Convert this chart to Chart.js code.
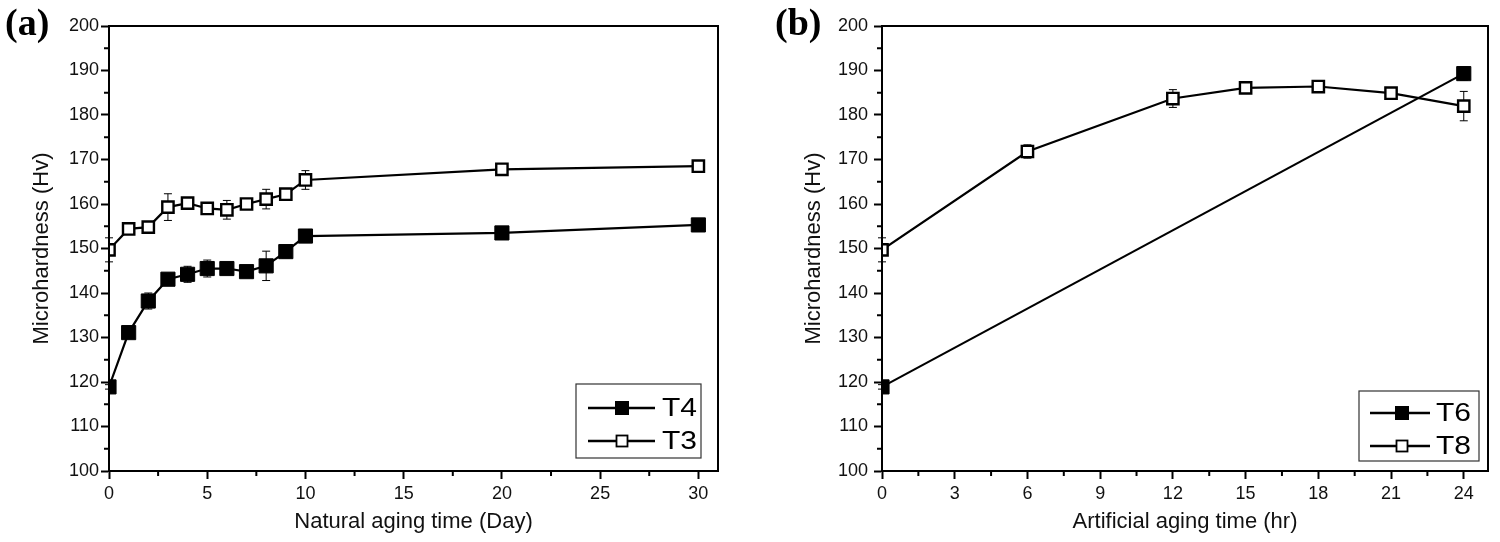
<!DOCTYPE html>
<html>
<head>
<meta charset="utf-8">
<script src="https://cdn.jsdelivr.net/npm/chart.js@4.4.1/dist/chart.umd.min.js"></script>
<style>
  html, body { margin: 0; padding: 0; background: #fff; }
  #wrap { position: relative; width: 1500px; height: 542px; overflow: hidden; }
  canvas { position: absolute; top: 0; }
  #chartA { left: 0; }
  #chartB { left: 750px; }
  .panel { position: absolute; top: 0px; font: bold 38px "Liberation Serif", "Times New Roman", serif; color: #000; }
</style>
</head>
<body>
<div id="wrap">
  <canvas id="chartA" width="750" height="542"></canvas>
  <canvas id="chartB" width="750" height="542"></canvas>
  <div class="panel" style="left:5px">(a)</div>
  <div class="panel" style="left:775px">(b)</div>
</div>
<script>
// panel (a): natural aging
const dayA = [0, 1, 2, 3, 4, 5, 6, 7, 8, 9, 10, 20, 30];
const t4 = [118.9, 131.1, 138.2, 143.1, 144.2, 145.5, 145.5, 144.8, 146.1, 149.3, 152.8, 153.5, 155.3];
const t4Err = [0.5, 0.4, 1.8, 1.2, 1.8, 1.9, 0.5, 0.5, 3.3, 1.4, 0.5, 0.5, 0.5];
const t3 = [149.7, 154.4, 154.8, 159.3, 160.2, 159.0, 158.7, 160.0, 161.1, 162.2, 165.4, 167.8, 168.5];
const t3Err = [2.7, 0.4, 0.6, 3.0, 0.5, 0.6, 2.1, 0.6, 2.2, 0.9, 2.1, 1.2, 1.0];

// panel (b): artificial aging
const hrT6 = [0, 24];
const t6 = [118.9, 189.3];
const t6Err = [0.5, 1.5];
const hrT8 = [0, 6, 12, 15, 18, 21, 24];
const t8 = [149.7, 171.8, 183.7, 186.1, 186.4, 184.9, 182.0];
const t8Err = [2.7, 1.5, 2.0, 0.5, 0.5, 0.5, 3.3];

// axes
const xTicksA = [0, 5, 10, 15, 20, 25, 30];
const xMinorA = [2.5, 7.5, 12.5, 17.5, 22.5, 27.5];
const xTicksB = [0, 3, 6, 9, 12, 15, 18, 21, 24];
const xMinorB = [1.5, 4.5, 7.5, 10.5, 13.5, 16.5, 19.5, 22.5];
const yTicks = [100, 110, 120, 130, 140, 150, 160, 170, 180, 190, 200];
const yMinor = [105, 115, 125, 135, 145, 155, 165, 175, 185, 195];

const FONT = "'Liberation Sans', Arial, sans-serif";

function pts(xs, ys) {
    return xs.map((x, i) => ({ x: x, y: ys[i] }));
}

function filledSet(label, xs, ys, errs) {
    return {
        label: label,
        data: pts(xs, ys),
        errors: errs,
        filled: true,
        borderColor: "#000",
        borderWidth: 2.2,
        backgroundColor: "#000",
        pointStyle: "rect",
        pointRadius: 10,
        pointBorderWidth: 1,
        pointBackgroundColor: "#000",
        pointBorderColor: "#000",
        clip: { left: 0, top: 20, right: 20, bottom: 20 }
    };
}

function openSet(label, xs, ys, errs) {
    return {
        label: label,
        data: pts(xs, ys),
        errors: errs,
        filled: false,
        borderColor: "#000",
        borderWidth: 2.2,
        backgroundColor: "#fff",
        pointStyle: "rect",
        pointRadius: 8,
        pointBorderWidth: 2.4,
        pointBackgroundColor: "#fff",
        pointBorderColor: "#000",
        clip: { left: 0, top: 20, right: 20, bottom: 20 }
    };
}

// error bars, drawn under the markers
const errorBars = {
    id: "errorBars",
    beforeDatasetsDraw(chart) {
        const ctx = chart.ctx;
        const xs = chart.scales.x, ys = chart.scales.y;
        ctx.save();
        ctx.strokeStyle = "#000";
        ctx.lineWidth = 1;
        chart.data.datasets.forEach(ds => {
            ds.data.forEach((p, i) => {
                const e = ds.errors[i];
                const px = xs.getPixelForValue(p.x);
                const top = ys.getPixelForValue(p.y + e);
                const bot = ys.getPixelForValue(p.y - e);
                ctx.beginPath();
                ctx.moveTo(px, top); ctx.lineTo(px, bot);
                ctx.moveTo(px - 4, top); ctx.lineTo(px + 4, top);
                ctx.moveTo(px - 4, bot); ctx.lineTo(px + 4, bot);
                ctx.stroke();
            });
        });
        ctx.restore();
    }
};

// box frame + minor ticks + legend box
const frame = {
    id: "frame",
    afterDraw(chart, args, opts) {
        const ctx = chart.ctx;
        const a = chart.chartArea;
        const xs = chart.scales.x, ys = chart.scales.y;
        ctx.save();
        ctx.strokeStyle = "#000";
        ctx.lineWidth = 2;
        ctx.strokeRect(a.left, a.top, a.right - a.left, a.bottom - a.top);

        ctx.beginPath();
        opts.xMinor.forEach(v => {
            const px = xs.getPixelForValue(v);
            ctx.moveTo(px, a.bottom);
            ctx.lineTo(px, a.bottom + 5);
        });
        yMinor.forEach(v => {
            const py = ys.getPixelForValue(v);
            ctx.moveTo(a.left, py);
            ctx.lineTo(a.left - 5, py);
        });
        ctx.stroke();

        // legend
        const lg = opts.legend;
        const bx = a.right - lg.right - lg.w;
        const by = a.bottom - lg.bottom - lg.h;
        ctx.fillStyle = "#fff";
        ctx.fillRect(bx, by, lg.w, lg.h);
        ctx.lineWidth = 1.2;
        ctx.strokeStyle = "#333";
        ctx.strokeRect(bx, by, lg.w, lg.h);
        chart.data.datasets.forEach((ds, i) => {
            const cy = by + lg.rows[i];
            ctx.strokeStyle = "#000";
            ctx.lineWidth = 2.5;
            ctx.beginPath();
            ctx.moveTo(bx + lg.line[0], cy);
            ctx.lineTo(bx + lg.line[1], cy);
            ctx.stroke();
            const mx = bx + lg.mark;
            if (ds.filled) {
                ctx.fillStyle = "#000";
                ctx.fillRect(mx - 7, cy - 7, 14, 14);
            } else {
                ctx.fillStyle = "#fff";
                ctx.fillRect(mx - 5.5, cy - 5.5, 11, 11);
                ctx.lineWidth = 1.8;
                ctx.strokeRect(mx - 5.5, cy - 5.5, 11, 11);
            }
            ctx.save();
            ctx.translate(bx + lg.text, cy + 1);
            ctx.scale(1.2, 1);
            ctx.font = "25px " + FONT;
            ctx.textBaseline = "middle";
            ctx.textAlign = "left";
            ctx.fillStyle = "#000";
            ctx.fillText(ds.label, 0, 0);
            ctx.restore();
        });
        ctx.restore();
    }
};

function makeOptions(xMax, xTicks, xMinor, yWidth, pad, titleX, legend, tickPad) {
    return {
        responsive: false,
        animation: false,
        devicePixelRatio: 1,
        layout: { padding: pad },
        plugins: {
            legend: { display: false },
            tooltip: { enabled: false },
            frame: { xMinor: xMinor, legend: legend }
        },
        scales: {
            x: {
                type: "linear",
                min: 0,
                max: xMax,
                afterBuildTicks: s => { s.ticks = xTicks.map(v => ({ value: v })); },
                afterFit: s => { s.height = 71; },
                border: { display: true, color: "#000", width: 2 },
                grid: { drawOnChartArea: false, drawTicks: true, tickLength: 8, tickWidth: 2, tickColor: "#000" },
                ticks: { color: "#111", padding: 4, maxRotation: 0, font: { family: FONT, size: 18 } },
                title: { display: true, text: titleX, color: "#111", padding: { top: 0, bottom: 7 }, font: { family: FONT, size: 22 } }
            },
            y: {
                type: "linear",
                min: 100,
                max: 200,
                afterBuildTicks: s => { s.ticks = yTicks.map(v => ({ value: v })); },
                afterFit: s => { s.width = yWidth; },
                border: { display: true, color: "#000", width: 2 },
                grid: { drawOnChartArea: false, drawTicks: true, tickLength: 8, tickWidth: 2, tickColor: "#000" },
                ticks: { color: "#111", padding: tickPad, font: { family: FONT, size: 18 } },
                title: { display: true, text: "Microhardness (Hv)", color: "#111", padding: { top: 0, bottom: 0 }, font: { family: FONT, size: 22 } }
            }
        }
    };
}

new Chart(document.getElementById("chartA"), {
    type: "line",
    data: {
        datasets: [
            filledSet("T4", dayA, t4, t4Err),
            openSet("T3", dayA, t3, t3Err)
        ]
    },
    options: makeOptions(31, xTicksA, xMinorA, 80,
        { left: 29, right: 32, top: 26, bottom: 0 },
        "Natural aging time (Day)",
        { right: 17, bottom: 13, w: 125, h: 74, rows: [24, 57], line: [12, 79], mark: 46, text: 86 }, 2),
    plugins: [errorBars, frame]
});

new Chart(document.getElementById("chartB"), {
    type: "line",
    data: {
        datasets: [
            filledSet("T6", hrT6, t6, t6Err),
            openSet("T8", hrT8, t8, t8Err)
        ]
    },
    options: makeOptions(25, xTicksB, xMinorB, 81,
        { left: 51, right: 12, top: 26, bottom: 0 },
        "Artificial aging time (hr)",
        { right: 9, bottom: 10, w: 120, h: 70, rows: [22, 55], line: [11, 71], mark: 43, text: 77 }, 6),
    plugins: [errorBars, frame]
});
</script>
</body>
</html>
